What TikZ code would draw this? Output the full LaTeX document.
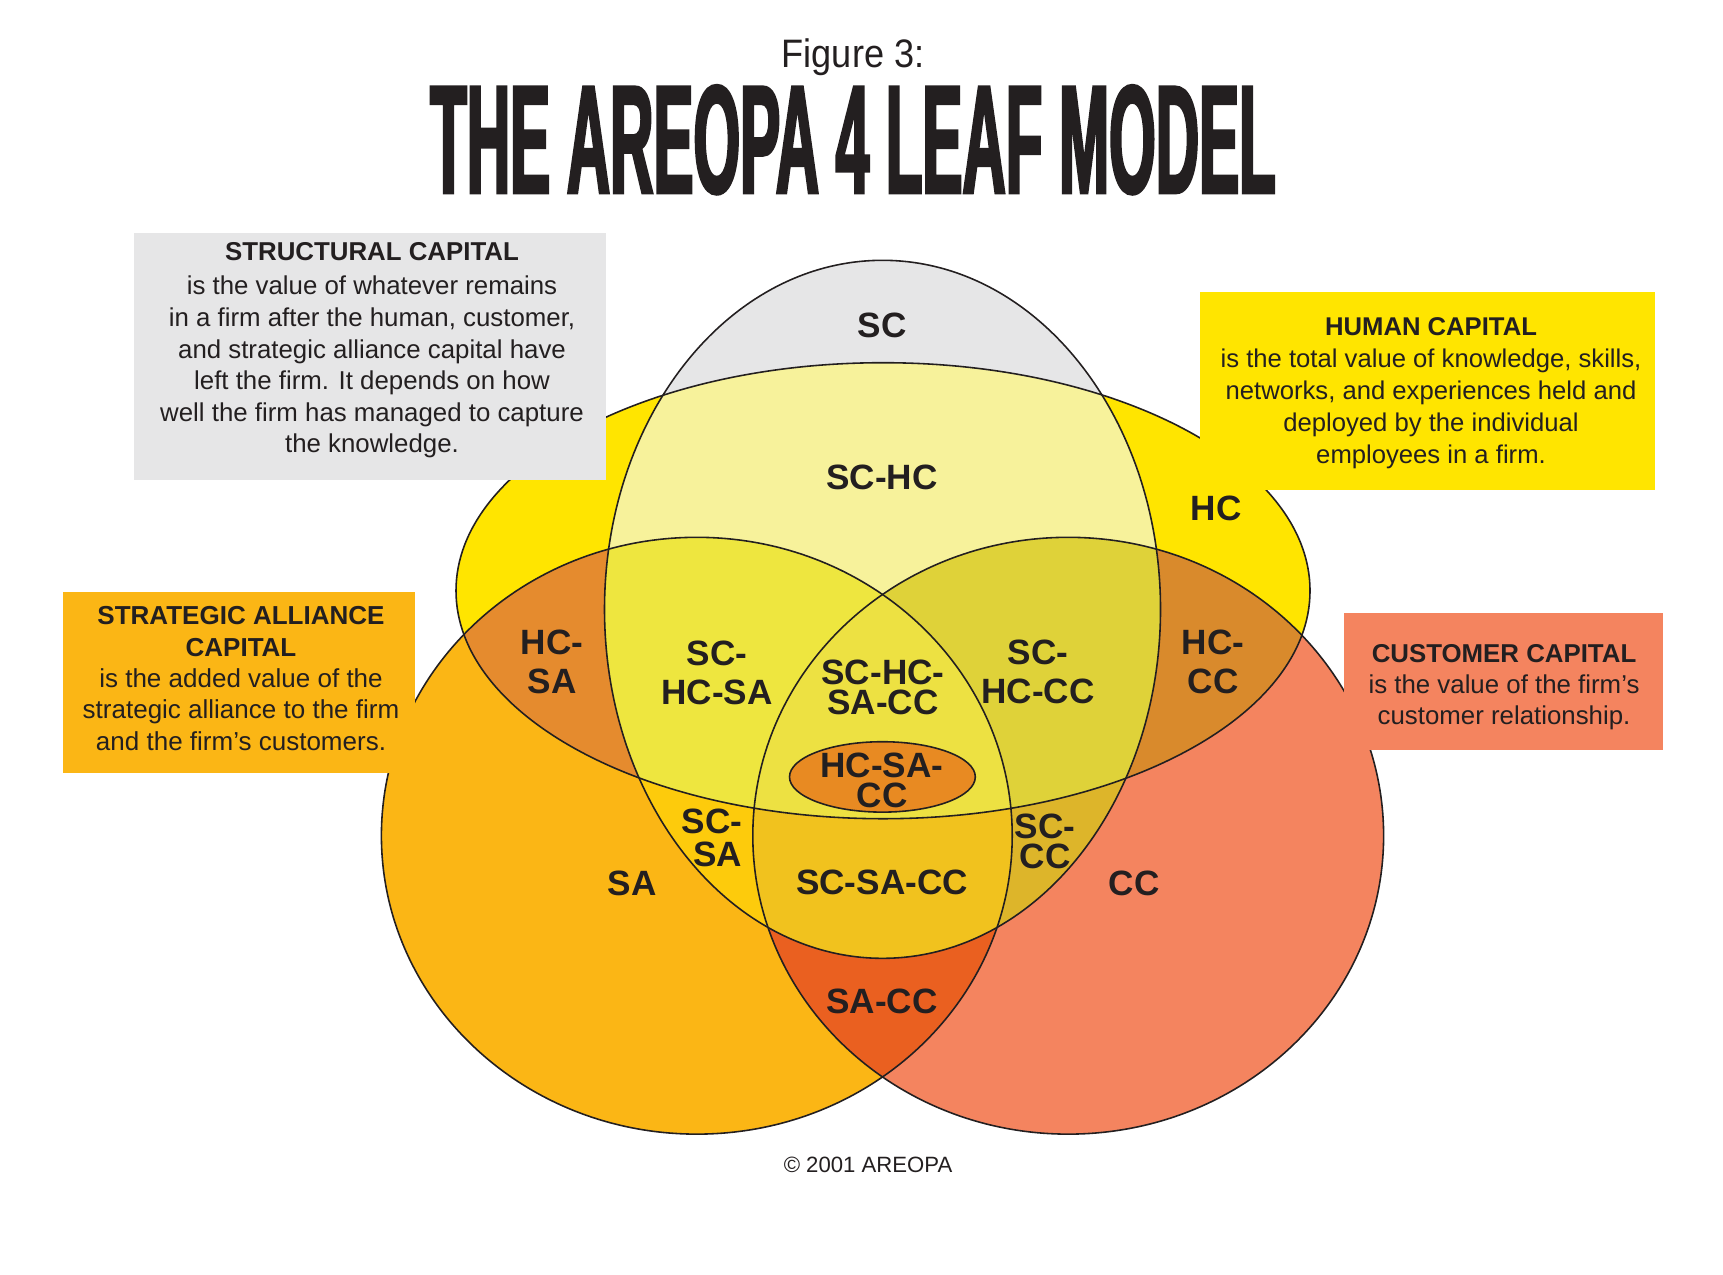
\documentclass[tikz,border=0pt]{standalone}
\usepackage{fontspec}
\setmainfont{Liberation Sans}
\newfontfamily\leaftitle{Liberation Sans}[FakeStretch=0.388, FakeBold=1.6]
\newfontfamily\figfont{Liberation Sans}[FakeStretch=0.91]
\usepackage{tikz}
\usepackage{xcolor}
\usetikzlibrary{positioning}

\definecolor{inkblack}{HTML}{231F20}
\definecolor{scgray}{HTML}{E6E6E7}
\definecolor{hcyellow}{HTML}{FFE500}
\definecolor{saorange}{HTML}{FBB615}
\definecolor{ccsalmon}{HTML}{F4845F}
\definecolor{schc}{HTML}{F7F29B}
\definecolor{hcsa}{HTML}{E58B2E}
\definecolor{hccc}{HTML}{D98A2C}
\definecolor{scsa}{HTML}{FDCB0C}
\definecolor{sccc}{HTML}{DDB52A}
\definecolor{sacc}{HTML}{EA6020}
\definecolor{schcsa}{HTML}{EEE63F}
\definecolor{schccc}{HTML}{DFD239}
\definecolor{scsacc}{HTML}{F1C21E}
\definecolor{allfour}{HTML}{EDE142}
\definecolor{hcsacc}{HTML}{E88A22}

\tikzstyle{leaf}     = [draw=inkblack, line width=0.45pt]
\tikzstyle{lbl}      = [font=\bfseries\fontsize{10}{11.1}\selectfont, text=inkblack,
                        align=center, inner sep=0pt]
\tikzstyle{lbltight} = [lbl, font=\bfseries\fontsize{10}{8.5}\selectfont]
\tikzstyle{infobox}  = [rectangle, inner sep=0pt]
\tikzstyle{infotext} = [align=center, text=inkblack, inner sep=0pt]

% the four leaves
\newcommand\scleaf{(882.5,609.3) ellipse [x radius=278, y radius=349]}
\newcommand\hcleaf{(883,590.7) ellipse [x radius=427, y radius=228]}
\newcommand\saleaf{(696.8,835.7) ellipse [x radius=315.4, y radius=298.4]}
\newcommand\ccleaf{(1068.2,835.7) ellipse [x radius=315.4, y radius=298.4]}

\begin{document}
\begin{tikzpicture}[x=0.1mm, y=-0.1mm]
    \useasboundingbox (0,0) rectangle (1723,1274);

    % Plain leaves
    \fill[saorange] \saleaf;
    \fill[ccsalmon] \ccleaf;
    \fill[hcyellow] \hcleaf;
    \fill[scgray] \scleaf;

    % Two-way overlaps
    \begin{scope}
        \clip \saleaf;
        \fill[sacc] \ccleaf;
    \end{scope}
    \begin{scope}
        \clip \hcleaf;
        \fill[hcsa] \saleaf;
        \fill[hccc] \ccleaf;
    \end{scope}
    \begin{scope}
        \clip \scleaf;
        \fill[schc] \hcleaf;
        \fill[scsa] \saleaf;
        \fill[sccc] \ccleaf;
    \end{scope}

    % Three-way overlaps
    \begin{scope}
        \clip \scleaf;
        \clip \hcleaf;
        \fill[schcsa] \saleaf;
        \fill[schccc] \ccleaf;
    \end{scope}
    \begin{scope}
        \clip \scleaf;
        \clip \saleaf;
        \fill[scsacc] \ccleaf;
    \end{scope}

    % Centre
    \begin{scope}
        \clip \scleaf;
        \clip \hcleaf;
        \clip \saleaf;
        \fill[allfour] \ccleaf;
    \end{scope}

    % Outlines
    \draw[leaf] \saleaf;
    \draw[leaf] \ccleaf;
    \draw[leaf] \hcleaf;
    \draw[leaf] \scleaf;
    \draw[leaf, fill=hcsacc] (882.4,776.9) ellipse [x radius=92.9, y radius=35.2];

    % Region labels
    \node (lsc)     [lbl] at (882,325) {SC};
    \node (lschc)   [lbl] at (882,477) {SC-HC};
    \node (lhc)     [lbl] at (1216,508) {HC};
    \node (lhcsa)   [lbl] at (552,662) {HC-\\SA};
    \node (lschcsa) [lbl] at (717,673) {SC-\\HC-SA};
    \node (lall)    [lbltight] at (883,687) {SC-HC-\\SA-CC};
    \node (lschccc) [lbl] at (1038,672) {SC-\\HC-CC};
    \node (lhccc)   [lbl] at (1213,662) {HC-\\CC};
    \node (lhcsacc) [lbltight] at (882,780) {HC-SA-\\CC};
    \node (lscsa)   [lbltight, align=right, font=\bfseries\fontsize{10}{9.2}\selectfont] at (712,838) {SC-\\SA};
    \node (lsccc)   [lbltight, font=\bfseries\fontsize{10}{8.5}\selectfont] at (1045,841) {SC-\\CC};
    \node (lsa)     [lbl] at (632,883) {SA};
    \node (lscsacc) [lbl] at (882,882) {SC-SA-CC};
    \node (lcc)     [lbl] at (1134,883) {CC};
    \node (lsacc)   [lbl] at (882,1001) {SA-CC};

    % Definition boxes
    \node (scbox) [infobox, fill=scgray, minimum width=47.2mm, minimum height=24.7mm] at (370,356.5) {};
    \node (hcbox) [infobox, fill=hcyellow, minimum width=45.5mm, minimum height=19.8mm] at (1427.5,391) {};
    \node (sabox) [infobox, fill=saorange, minimum width=35.2mm, minimum height=18.1mm] at (239,682.5) {};
    \node (ccbox) [infobox, fill=ccsalmon, minimum width=31.9mm, minimum height=13.7mm] at (1503.5,681.5) {};

    \node (sctext) [infotext, font=\fontsize{7.35}{9}\selectfont] at (372,350.5)
        {\textbf{STRUCTURAL CAPITAL}\\[0.7pt]is the value of whatever remains\\in a firm after the human, customer,\\and strategic alliance capital have\\left the firm. It depends on how\\well the firm has managed to capture\\the knowledge.};
    \node (hctext) [infotext, font=\fontsize{7.3}{9.1}\selectfont] at (1431,393)
        {\textbf{HUMAN CAPITAL}\\is the total value of knowledge, skills,\\networks, and experiences held and\\deployed by the individual\\employees in a firm.};
    \node (satext) [infotext, font=\fontsize{7.4}{8.9}\selectfont] at (241,678.5)
        {\textbf{STRATEGIC ALLIANCE}\\\textbf{CAPITAL}\\is the added value of the\\strategic alliance to the firm\\and the firm’s customers.};
    \node (cctext) [infotext, font=\fontsize{7.35}{8.8}\selectfont] at (1504,687)
        {\textbf{CUSTOMER CAPITAL}\\is the value of the firm’s\\customer relationship.};

    % Heading and footer
    \node (figno) [anchor=base, text=inkblack, font=\figfont\fontsize{11.3}{13}\selectfont] at (853,67) {Figure 3:};
    \node (title) [anchor=base, text=inkblack, inner sep=0pt, font=\leaftitle\bfseries\fontsize{44}{46}\selectfont] at (853,193) {THE AREOPA 4 LEAF MODEL};
    \node (copy) [anchor=base, text=inkblack, font=\fontsize{6.3}{7}\selectfont] at (868,1172) {© 2001 AREOPA};
\end{tikzpicture}
\end{document}
